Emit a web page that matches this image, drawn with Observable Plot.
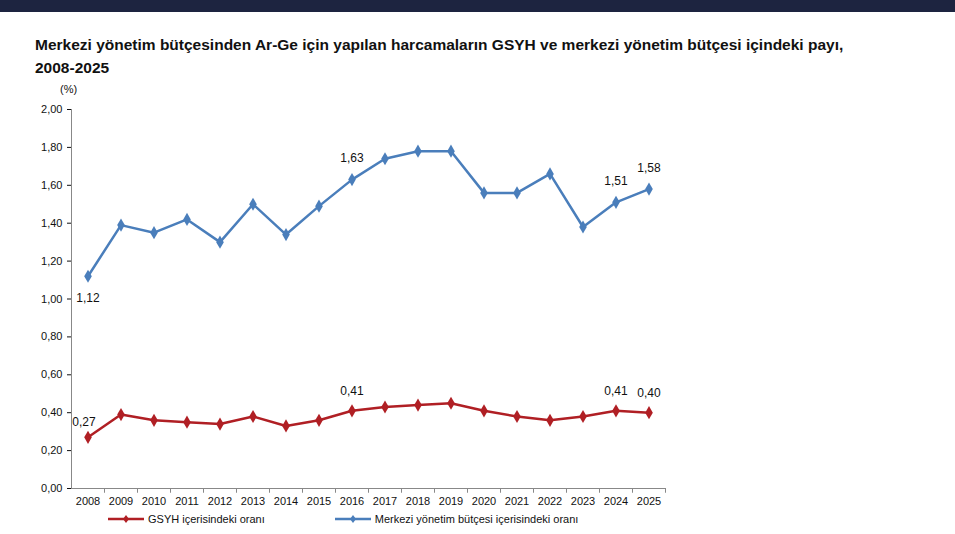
<!DOCTYPE html>
<html><head><meta charset="utf-8">
<script src="https://cdn.jsdelivr.net/npm/d3@7"></script>
<script src="https://cdn.jsdelivr.net/npm/@observablehq/plot@0.6"></script>
<style>
body{margin:0;background:#fff;font-family:Arial,"Liberation Sans",sans-serif;width:955px;overflow:hidden;position:relative}
#bar{height:12px;background:#1d2440}
#title{font-weight:bold;font-size:15.5px;color:#111;padding:21px 0 0 35px;line-height:23px;white-space:nowrap;height:49px}
#legend{display:flex;gap:70px;margin-left:108px;font-size:11px;color:#111;margin-top:0}
.it{display:flex;align-items:center;gap:4px}
#pct{position:absolute;left:60px;top:83px;font-size:11px;color:#111}
</style></head><body>
<div id="bar"></div>
<div id="title">Merkezi yönetim bütçesinden Ar-Ge için yapılan harcamaların GSYH ve merkezi yönetim bütçesi içindeki payı,<br>2008-2025</div>
<div id="pct">(%)</div>
<div id="chart"></div>
<div id="legend"></div>
<script>
const years=["2008","2009","2010","2011","2012","2013","2014","2015","2016","2017","2018","2019","2020","2021","2022","2023","2024","2025"];
const budget=[1.12,1.39,1.35,1.42,1.30,1.50,1.34,1.49,1.63,1.74,1.78,1.78,1.56,1.56,1.66,1.38,1.51,1.58];
const gdp=[0.27,0.39,0.36,0.35,0.34,0.38,0.33,0.36,0.41,0.43,0.44,0.45,0.41,0.38,0.36,0.38,0.41,0.40];
const budgetAbove=["2016","2024","2025"], budgetBelow=["2008"];
const gdpLabels=["2016","2024","2025"], gdpFirst=["2008"];
const blue="#4a7ebb", red="#b01f24";
const fmt=v=>v.toFixed(2).replace(".",",");
const B=years.map((y,i)=>({y,v:budget[i]})), G=years.map((y,i)=>({y,v:gdp[i]}));
const lbl=(data,keys,dy,dx=0)=>Plot.text(data.filter(d=>keys.includes(d.y)),{x:"y",y:"v",text:d=>fmt(d.v),dy,dx,fill:"#111",fontSize:12,textAnchor:"middle"});
const chart=Plot.plot({
 width:955,height:431,marginTop:27,marginBottom:25,marginLeft:71,marginRight:290,
 style:{fontFamily:"Arial, Liberation Sans, sans-serif",fontSize:"11px",color:"#111"},
 x:{type:"band",domain:years,padding:0,label:null,tickSize:0},
 y:{domain:[0,2],ticks:d3.range(0,2.01,0.2),tickFormat:fmt,label:null,tickSize:4},
 marks:[
  Plot.ruleX([years[0]],{x:d=>d,dx:-16.5,stroke:"#888"}),
  Plot.ruleY([0],{stroke:"#888"}),
  Plot.ruleX(years,{x:d=>d,dx:16.5,y1:0,y2:-0.025,stroke:"#888"}),
  Plot.line(B,{x:"y",y:"v",stroke:blue,strokeWidth:2.5}),
  Plot.dot(B,{x:"y",y:"v",symbol:"diamond",r:4,fill:blue}),
  Plot.line(G,{x:"y",y:"v",stroke:red,strokeWidth:2.5}),
  Plot.dot(G,{x:"y",y:"v",symbol:"diamond",r:4,fill:red}),
  lbl(B,budgetAbove,-21),
  lbl(B,budgetBelow,22),
  lbl(G,gdpLabels,-20),
  lbl(G,gdpFirst,-15,-4)
 ]
});
document.getElementById("chart").append(chart);
const lg=document.getElementById("legend");
[["GSYH içerisindeki oranı",red],["Merkezi yönetim bütçesi içerisindeki oranı",blue]].forEach(([t,c])=>{
 lg.insertAdjacentHTML("beforeend",`<div class="it"><svg width="36" height="10"><line x1="0" y1="5" x2="36" y2="5" stroke="${c}" stroke-width="2.5"/><path d="M18 1 L21 5 L18 9 L15 5Z" fill="${c}"/></svg>${t}</div>`);
});
</script></body></html>
